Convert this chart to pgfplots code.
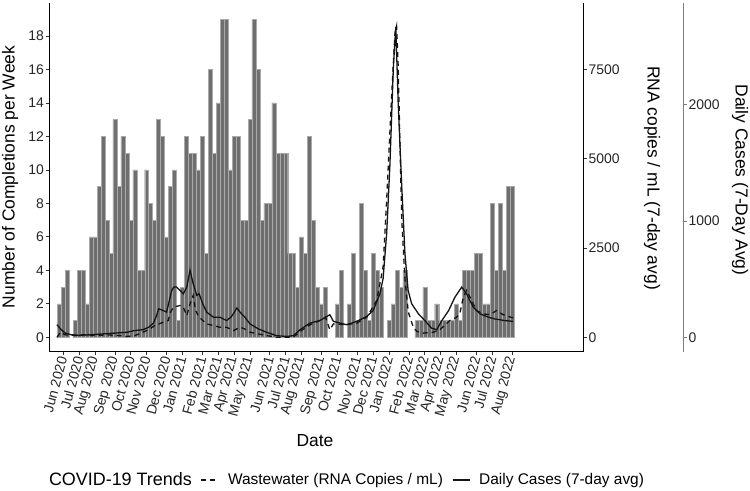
\documentclass[border=0pt]{standalone}
\usepackage{fontspec}
\setmainfont{Liberation Sans}
\usepackage{pgfplots}
\pgfplotsset{compat=1.18}
\definecolor{barfill}{RGB}{110,110,110}
\definecolor{baredge}{RGB}{170,170,170}
\definecolor{linecol}{RGB}{20,20,20}
\definecolor{axgray}{RGB}{125,125,125}
\begin{document}
\begin{tikzpicture}[x=1bp,y=1bp]
\useasboundingbox (0,0) rectangle (750,491);
\pgfplotsset{
  base/.style={
    at={(49.3bp,139.3bp)}, anchor=south west, scale only axis,
    width=534bp, height=349bp,
    xmin=-2.52, xmax=131.9,
    tick align=outside, major tick length=3.7bp,
    tick style={line width=0.8bp, color=black!80},
    axis line style={-, line width=1.1bp},
    /pgf/number format/assume math mode=true,
    /pgf/number format/1000 sep={},
    ticklabel style={font=\fontsize{14}{14}\selectfont, text=black!85},
  }
}
% ---------- main axis: bars ----------
\begin{axis}[base,
  axis x line*=bottom, axis y line*=left,
  ymin=-0.86, ymax=19.99, ytick={0,2,...,18},
  yticklabel style={inner sep=1.5bp},
  xtick={1,5,9,14,18,22,27,31,36,40,44,48,53,57,61,66,70,75,79,83,88,92,96,100,105,109,114},
  xticklabels={Jun 2020,Jul 2020,Aug 2020,Sep 2020,Oct 2020,Nov 2020,Dec 2020,Jan 2021,Feb 2021,Mar 2021,Apr 2021,May 2021,Jun 2021,Jul 2021,Aug 2021,Sep 2021,Oct 2021,Nov 2021,Dec 2021,Jan 2022,Feb 2022,Mar 2022,Apr 2022,May 2022,Jun 2022,Jul 2022,Aug 2022},
  xticklabel style={rotate=75, anchor=east, inner sep=1.5bp},
  legend style={at={(axis description cs:-0.0174,-0.3676)}, anchor=west,
    draw=none, fill=none, inner sep=0pt, outer sep=0pt,
    font=\fontsize{15.5}{15.5}\selectfont,
    /tikz/every odd column/.append style={column sep=7bp},
    /tikz/every even column/.append style={column sep=7bp}},
  legend columns=-1,
  legend cell align=left,
  legend image code/.code={\draw[#1] (0bp,0bp) -- (17bp,0bp);},
]
\addplot[ybar, bar width=1, bar shift=0pt, fill=barfill, draw=baredge, line width=0.4bp, forget plot] table {
0 2
1 3
2 4
4 1
5 4
6 4
7 2
8 6
9 6
10 9
11 12
12 7
13 5
14 13
15 9
16 12
17 11
18 7
19 10
20 4
21 4
22 10
23 8
24 7
25 13
26 12
27 6
28 9
29 10
30 1
31 3
32 12
33 11
34 11
35 10
36 12
37 5
38 16
39 11
40 14
41 19
42 19
43 10
44 12
45 12
46 7
47 7
48 13
49 19
50 16
51 7
52 8
53 8
54 14
55 11
56 11
57 11
58 5
59 5
60 3
61 6
62 5
63 12
64 7
65 3
66 2
67 3
70 2
71 4
73 2
74 5
75 1
76 8
77 4
78 1
79 5
80 4
81 3
83 1
84 2
85 4
86 3
87 4
90 1
91 1
92 3
93 1
94 1
95 2
96 1
97 1
98 1
99 1
100 2
101 1
102 4
103 4
104 4
105 5
106 5
107 2
108 2
109 8
110 4
111 8
112 4
113 9
114 9
};
\addlegendimage{empty legend}
\addlegendentry{\fontsize{18}{18}\selectfont COVID-19 Trends}
\addlegendimage{linecol, line width=1.3bp, dash pattern=on 5bp off 4bp}
\addlegendentry{Wastewater (RNA Copies / mL)}
\addlegendimage{linecol, line width=1.3bp}
\addlegendentry{Daily Cases (7-day avg)}
\end{axis}
% ---------- RNA axis ----------
\begin{axis}[base,
  axis x line=none, axis y line*=right,
  ymin=-403, ymax=9365, ytick={0,2500,5000,7500},
  yticklabel style={anchor=west, inner sep=1.5bp},
]
\addplot[linecol, line width=1.3bp, dash pattern=on 5bp off 4bp] table {
-0.6 0
0.3 141
1.5 70
3 47
6 70
9 47
12 70
15 47
17 23
19 47
21 141
22.5 211
24 328
26.2 422
27.4 469
28 703
28.7 843
30.4 890
31.2 843
32.1 609
32.9 937
33.7 1171
34.3 750
35.2 562
37.1 375
38.8 328
40.4 281
42.1 281
43.8 187
45.5 281
46.7 234
48 141
52.2 47
54.7 0
58.9 0
60.6 164
63.1 351
65.6 469
67 562
68.1 211
69.0 375
72.3 351
74.9 398
77.4 562
79.9 1031
81.5 1968
82.4 3842
83.6 6653
84.5 8527
84.9 8714
85.3 7590
85.8 5154
86.2 3280
87.0 1640
87.85 703
89.1 281
90.0 164
91.6 117
94.1 141
95.8 211
98.3 469
100.0 562
100.8 656
101.7 1124
102.5 1312
103.8 1031
105.0 750
106.7 656
108.4 632
110.1 750
111.7 632
114.3 539
};
\end{axis}
% ---------- Cases axis ----------
\begin{axis}[base,
  axis x line=none, axis y line*=right, axis y line shift=100bp,
  ymin=-124, ymax=2879, ytick={0,1000,2000},
  y axis line style={axgray},
  ytick style={axgray},
  yticklabel style={anchor=west, inner sep=1.5bp},
]
\addplot[linecol, line width=1.3bp] table {
-0.6 108
0.5 65
1.5 36
3 22
5 17
8 22
11 29
14 36
17 43
19 58
21 65
22.5 86
23.7 122
24.5 187
25 245
26.2 230
27 216
27.5 288
28.3 403
28.8 432
29.5 432
30.4 403
31.2 374
32.1 432
32.9 576
33.7 461
34.6 360
35.2 374
36.1 288
37.1 216
38.8 173
40.4 173
42.1 144
43.2 173
43.8 202
44.7 252
45.5 216
46.7 173
48 115
50.1 72
52.2 43
54.7 14
57.2 7
58.9 14
60.6 65
63.1 122
65.6 144
68.1 194
69.0 137
72.3 108
74.9 137
77.4 180
79.0 230
80.7 374
81.5 504
82.4 893
83.2 1469
84.1 2333
84.7 2671
85.3 2016
86.2 1296
87.0 720
87.8 403
88.7 288
90.4 202
92.0 144
93.7 79
95.0 65
96.3 144
98.0 230
99.6 346
101.3 432
102.5 374
104.2 259
105.9 202
108 173
109.6 158
112.1 144
114.2 137
};
\end{axis}
\node[rotate=90, font=\fontsize{17.5}{17.5}\selectfont] at (10,314) {Number of Completions per Week};
\node[rotate=-90, font=\fontsize{17.5}{17.5}\selectfont] at (652,313) {RNA copies / mL (7-day avg)};
\node[rotate=-90, font=\fontsize{17.5}{17.5}\selectfont] at (740,311) {Daily Cases (7-Day Avg)};
\node[font=\fontsize{17.5}{17.5}\selectfont] at (315,50) {Date};
\end{tikzpicture}
\end{document}
